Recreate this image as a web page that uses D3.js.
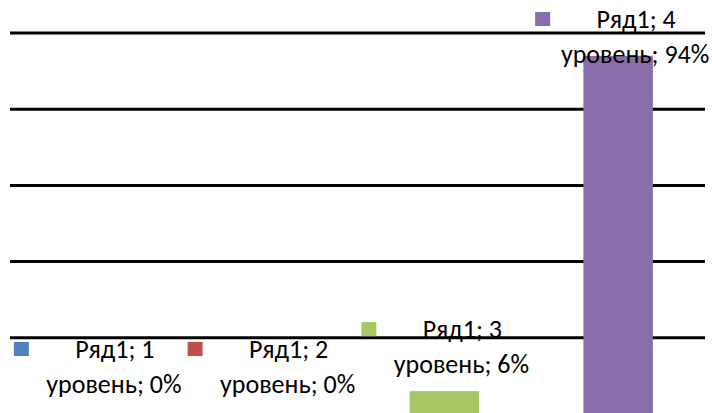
<!DOCTYPE html>
<html>
<head>
<meta charset="utf-8">
<script src="https://cdn.jsdelivr.net/npm/d3@7"></script>
<style>
  body { margin: 0; background: #fff; }
  svg { display: block; }
  .lbl { font-family: Calibri, Carlito, "Liberation Sans", sans-serif; font-size: 26px; fill: #000; }
</style>
</head>
<body>
<svg id="chart" width="712" height="413"></svg>
<script>
let categories = ["1 уровень", "2 уровень", "3 уровень", "4 уровень"];
let values = [0, 0, 0.06, 0.94];
let colors = ["#4F81BD", "#C0504D", "#A5C663", "#8A6DAB"];
let seriesName = "Ряд1";
let gridTicks = [0.2, 0.4, 0.6, 0.8, 1.0];

let svg = d3.select("#chart");
let width = 712, height = 413;

let x = d3.scaleBand()
          .domain(categories)
          .range([10, 705])
          .paddingInner(0.6)
          .paddingOuter(0.3);

let y = d3.scaleLinear()
          .domain([0, 1])
          .range([414, 33]);

// gridlines
svg.selectAll(".grid")
   .data(gridTicks)
   .enter()
   .append("line")
   .attr("class", "grid")
   .attr("x1", x.range()[0])
   .attr("x2", x.range()[1])
   .attr("y1", d => y(d))
   .attr("y2", d => y(d))
   .attr("stroke", "#000")
   .attr("stroke-width", 3)

let data = categories.map((c, i) => ({cat: c, v: values[i], color: colors[i]}));

svg.selectAll(".bar")
   .data(data)
   .enter()
   .append("rect")
   .attr("class", "bar")
   .attr("x", d => x(d.cat))
   .attr("y", d => y(d.v))
   .attr("width", x.bandwidth())
   .attr("height", d => y(0) - y(d.v))
   .attr("fill", d => d.color)

// data labels: legend key + "Ряд1; N" / "уровень; X%"
let lineGap = 35;
let labels = svg.selectAll(".label")
                .data(data)
                .enter()
                .append("g")
                .attr("class", "label")
                .attr("transform", d => {
                  let cx = x(d.cat) + x.bandwidth() / 2 + 17;
                  let second = y(d.v) - 18;
                  second = Math.min(second, 393);
                  let first = second - lineGap;
                  if (first < 28) { first = 28; second = first + lineGap; }
                  d.second = second - first;
                  return "translate(" + cx + "," + first + ")";
                })

labels.append("rect")
      .attr("x", -100)
      .attr("y", -16)
      .attr("width", 15)
      .attr("height", 14)
      .attr("fill", d => d.color)

labels.append("text")
      .attr("class", "lbl")
      .attr("x", 1)
      .attr("y", 0)
      .attr("text-anchor", "middle")
      .text(d => seriesName + "; " + d.cat.split(" ")[0])

labels.append("text")
      .attr("class", "lbl")
      .attr("x", 0)
      .attr("y", d => d.second)
      .attr("text-anchor", "middle")
      .text(d => d.cat.split(" ")[1] + "; " + Math.round(d.v * 100) + "%")
</script>
</body>
</html>
